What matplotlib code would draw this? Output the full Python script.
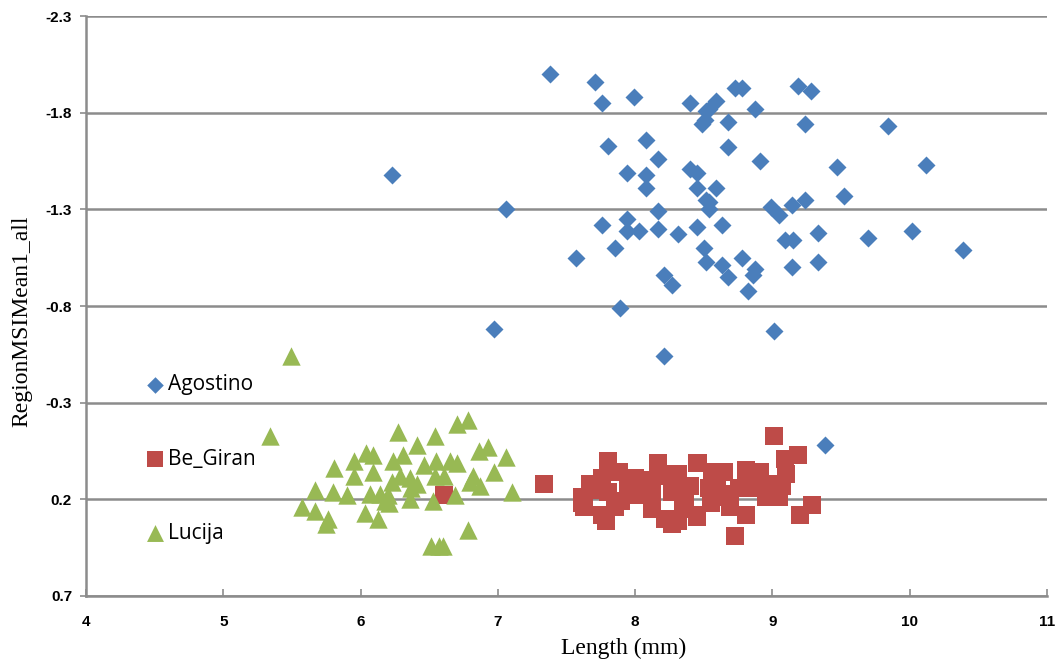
import matplotlib
matplotlib.use("Agg")
import matplotlib.pyplot as plt

# Agostino (blue diamonds)
ago_x = [7.38, 7.71, 7.76, 7.99, 8.40, 8.52, 8.49, 7.80, 8.08, 8.17, 6.23, 7.94, 8.08, 8.08,
         8.40, 8.45, 8.45, 8.52, 7.06, 8.17, 7.94, 7.76, 7.94, 8.03, 8.17, 8.31, 8.45, 8.50,
         8.52, 7.85, 7.57, 8.21, 8.27, 7.89, 6.97, 8.21,
         8.73, 8.78, 8.59, 8.54, 8.51, 8.87, 8.68, 9.19, 9.28, 9.24, 9.84, 8.68, 8.91, 9.47,
         10.12, 8.59, 8.54, 8.54, 8.99, 9.05, 9.14, 9.24, 9.52, 8.63, 8.63, 8.68, 8.78, 8.87,
         8.86, 8.82, 9.09, 9.15, 9.33, 9.70, 10.02, 10.39, 9.14, 9.33, 9.01, 9.38]
ago_y = [-2.00, -1.96, -1.85, -1.88, -1.85, -1.81, -1.74, -1.63, -1.66, -1.56, -1.48, -1.49,
         -1.48, -1.41, -1.51, -1.49, -1.41, -1.35, -1.30, -1.29, -1.25, -1.22, -1.19, -1.19,
         -1.20, -1.17, -1.21, -1.10, -1.03, -1.10, -1.05, -0.96, -0.91, -0.79, -0.68, -0.54,
         -1.93, -1.93, -1.86, -1.82, -1.76, -1.82, -1.75, -1.94, -1.91, -1.74, -1.73, -1.62,
         -1.55, -1.52, -1.53, -1.41, -1.34, -1.30, -1.31, -1.27, -1.32, -1.35, -1.37, -1.22,
         -1.01, -0.95, -1.05, -0.99, -0.96, -0.88, -1.14, -1.14, -1.18, -1.15, -1.19, -1.09,
         -1.00, -1.03, -0.67, -0.08]

# Be_Giran (red squares)
beg_x = [7.34, 7.61, 7.67, 7.76, 7.80, 7.88, 8.00, 8.17, 8.24, 7.63, 7.76, 7.79, 7.90, 8.02,
         8.12, 8.22, 8.27, 7.80, 7.61, 8.17, 8.45, 8.30, 8.45, 8.81, 8.69, 9.01, 9.09, 9.19,
         9.10, 8.46, 8.56, 8.65, 8.81, 8.91, 8.99, 9.07, 8.31, 8.27, 8.36, 8.40, 8.54, 8.68,
         8.76, 8.88, 8.69, 8.45, 8.31, 8.73, 9.20, 9.29, 8.63, 6.61,
         7.70, 7.95, 8.08, 8.12, 8.35, 8.55, 8.60, 8.95, 9.05, 8.20, 7.85]
beg_y = [0.12, 0.19, 0.12, 0.09, 0.00, 0.06, 0.09, 0.02, 0.07, 0.24, 0.28, 0.31, 0.21, 0.18,
         0.25, 0.30, 0.33, 0.16, 0.22, 0.01, 0.01, 0.31, 0.29, 0.28, 0.23, -0.13, -0.01, -0.03,
         0.07, 0.01, 0.06, 0.06, 0.05, 0.06, 0.12, 0.13, 0.07, 0.16, 0.19, 0.13, 0.14, 0.17,
         0.14, 0.14, 0.24, 0.28, 0.31, 0.39, 0.28, 0.23, 0.19, 0.18,
         0.15, 0.13, 0.10, 0.17, 0.25, 0.22, 0.12, 0.19, 0.19, 0.08, 0.24]

# Lucija (green triangles)
luc_x = [5.49, 5.34, 6.27, 6.54, 6.70, 6.78, 6.41, 6.86, 6.93, 7.06, 6.04, 6.09, 5.95, 6.24,
         6.31, 6.55, 6.65, 6.70, 6.46, 5.81, 5.95, 6.09, 6.97, 6.54, 6.61, 6.82, 6.23, 6.29,
         6.36, 6.41, 6.80, 6.87, 6.37, 5.67, 5.80, 5.90, 6.07, 6.14, 7.10, 6.18, 6.20, 6.36,
         6.53, 6.69, 6.21, 5.57, 5.67, 5.76, 5.75, 6.03, 6.13, 6.78, 6.51, 6.57, 6.60]
luc_y = [-0.54, -0.13, -0.15, -0.13, -0.19, -0.21, -0.08, -0.05, -0.07, -0.02, -0.04, -0.03,
         0.00, 0.00, -0.03, 0.00, 0.00, 0.01, 0.02, 0.04, 0.08, 0.06, 0.06, 0.08, 0.08, 0.08,
         0.11, 0.08, 0.09, 0.12, 0.11, 0.13, 0.14, 0.15, 0.16, 0.18, 0.17, 0.17, 0.16, 0.21,
         0.18, 0.20, 0.21, 0.18, 0.22, 0.24, 0.26, 0.30, 0.33, 0.27, 0.30, 0.36, 0.44, 0.44, 0.44]

x_ticks = [4, 5, 6, 7, 8, 9, 10, 11]
y_ticks = [-2.3, -1.8, -1.3, -0.8, -0.3, 0.2, 0.7]

fig = plt.figure(figsize=(10.6, 6.59), dpi=100)
ax = fig.add_axes([0.0811, 0.0956, 0.9066, 0.8801])

grid_col = "#8c8c8c"
ax.set_axisbelow(True)
ax.yaxis.grid(True, color=grid_col, linewidth=1.8)

ax.scatter(ago_x, ago_y, marker="D", s=84, color="#4A7EBB", linewidths=0, label="Agostino", zorder=3)
ax.scatter(beg_x, beg_y, marker="s", s=175, color="#BE4B48", linewidths=0, label="Be_Giran", zorder=3)
ax.scatter(luc_x, luc_y, marker="^", s=175, color="#98B954", linewidths=0, label="Lucija", zorder=3)

ax.set_xlim(4, 11)
ax.set_ylim(0.7, -2.3)
ax.set_xticks(x_ticks)
ax.set_yticks(y_ticks)
ax.set_xticklabels([str(v) for v in x_ticks])
ax.set_yticklabels([f"{v:.1f}" for v in y_ticks])

for side in ["top", "right"]:
    ax.spines[side].set_visible(False)
for side in ["left", "bottom"]:
    ax.spines[side].set_color(grid_col)
    ax.spines[side].set_linewidth(1.8)

ax.tick_params(axis="x", direction="in", length=5, color=grid_col, width=1.2, pad=14)
ax.tick_params(axis="y", direction="out", length=4, color=grid_col, width=1.2, pad=6)
for lab in ax.get_xticklabels() + ax.get_yticklabels():
    lab.set_fontfamily("Liberation Sans")
    lab.set_fontweight("bold")
    lab.set_fontsize(11)

ax.set_xlabel("Length (mm)", fontfamily="Liberation Serif", fontsize=17)
ax.xaxis.set_label_coords(0.559, -0.072)
ax.set_ylabel("RegionMSIMean1_all", fontfamily="Liberation Serif", fontsize=17)
ax.yaxis.set_label_coords(-0.056, 0.474)

leg = ax.legend(loc="center left", bbox_to_anchor=(0.0614, 0.236), frameon=False,
                prop={"family": "Open Sans", "size": 15}, labelspacing=2.55,
                borderpad=0, borderaxespad=0,
                handletextpad=0.1, handlelength=1.0, markerscale=0.92)

fig.savefig("out.png", dpi=100)
